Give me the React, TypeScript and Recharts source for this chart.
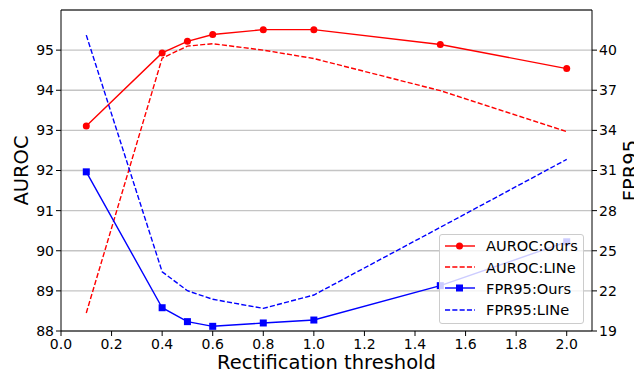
import { ComposedChart, Line, XAxis, YAxis, CartesianGrid, Legend, ReferenceLine, Label } from "recharts";

const thresholds = [0.1, 0.4, 0.5, 0.6, 0.8, 1.0, 1.5, 2.0];
const aurocOurs = [93.11, 94.93, 95.22, 95.39, 95.51, 95.51, 95.14, 94.54];
const aurocLine = [88.45, 94.8, 95.1, 95.16, 95.0, 94.79, 93.99, 92.97];
const fprOurs = [30.9, 20.74, 19.7, 19.35, 19.6, 19.82, 22.39, 25.67];
const fprLine = [41.12, 23.43, 22.01, 21.37, 20.69, 21.69, 26.75, 31.83];

const xTicks = [0, 0.2, 0.4, 0.6, 0.8, 1.0, 1.2, 1.4, 1.6, 1.8, 2.0];
const aurocTicks = [88, 89, 90, 91, 92, 93, 94, 95];
const fprTicks = [19, 22, 25, 28, 31, 34, 37, 40];

const data = thresholds.map((x, i) => ({
  x,
  aurocOurs: aurocOurs[i],
  aurocLine: aurocLine[i],
  fprOurs: fprOurs[i],
  fprLine: fprLine[i],
}));

const FONT = "'DejaVu Sans', sans-serif";
const RED = "#ff0000";
const BLUE = "#0000ff";
const DASH = "5.1 2.2";

const legendItems = [
  { name: "AUROC:Ours", color: RED, dashed: false, marker: "circle" },
  { name: "AUROC:LINe", color: RED, dashed: true, marker: null },
  { name: "FPR95:Ours", color: BLUE, dashed: false, marker: "square" },
  { name: "FPR95:LINe", color: BLUE, dashed: true, marker: null },
];

function SquareDot(props: any) {
  const { cx, cy, index } = props;
  if (cx == null || cy == null) return null;
  return <rect key={`sq-${index}`} x={cx - 3.5} y={cy - 3.5} width={7} height={7} fill={BLUE} />;
}

function LegendBox() {
  return (
    <div
      style={{
        border: "1px solid #cccccc",
        borderRadius: 3,
        background: "rgba(255,255,255,0.8)",
        padding: "0 0 0 4px",
        fontFamily: FONT,
        fontSize: 14.6,
        boxSizing: "border-box",
        width: 145,
        height: 90,
      }}
    >
      {legendItems.map((it) => (
        <div key={it.name} style={{ display: "flex", alignItems: "center", height: 21.4 }}>
          <svg width={42} height={12} style={{ flex: "none" }}>
            <line x1={1} x2={31} y1={6} y2={6} stroke={it.color} strokeWidth={1.4} strokeDasharray={it.dashed ? DASH : undefined} />
            {it.marker === "circle" && <circle cx={15.5} cy={6} r={3.5} fill={it.color} />}
            {it.marker === "square" && <rect x={12} y={2.5} width={7} height={7} fill={it.color} />}
          </svg>
          <span style={{ color: "#000", whiteSpace: "nowrap" }}>{it.name}</span>
        </div>
      ))}
    </div>
  );
}

export default function App() {
  const tickStyle = { fill: "#000", fontSize: 14, fontFamily: FONT };
  return (
    <div style={{ position: "absolute", left: 0, top: 0, width: 634, height: 375, background: "#fff" }}>
      <ComposedChart width={634} height={375} data={data} margin={{ top: 10, right: 0, bottom: 0, left: 0 }}>
        <CartesianGrid yAxisId="left" vertical={false} stroke="#c4c4c4" strokeWidth={1.3} />
        <XAxis
          dataKey="x"
          type="number"
          domain={[0, 2.1]}
          ticks={xTicks}
          tickFormatter={(v: number) => v.toFixed(1)}
          height={44}
          tickSize={5}
          tickMargin={3}
          tick={tickStyle}
          tickLine={{ stroke: "#000" }}
          axisLine={{ stroke: "#000" }}
          allowDataOverflow
        >
          <Label
            content={({ viewBox }: any) => (
              <text x={viewBox.x + viewBox.width / 2} y={369} textAnchor="middle" fontSize={19.5} fontFamily={FONT} fill="#000">
                Rectification threshold
              </text>
            )}
          />
        </XAxis>
        <YAxis
          yAxisId="left"
          domain={[88, 96]}
          ticks={aurocTicks}
          width={61}
          tickSize={5}
          tickMargin={2}
          tick={tickStyle}
          tickLine={{ stroke: "#000" }}
          axisLine={{ stroke: "#000" }}
          allowDataOverflow
        >
          <Label
            content={({ viewBox }: any) => {
              const cy = viewBox.y + viewBox.height / 2;
              return (
                <text x={28} y={cy} transform={`rotate(-90, 28, ${cy})`} textAnchor="middle" fontSize={19.5} fontFamily={FONT} fill="#000">
                  AUROC
                </text>
              );
            }}
          />
        </YAxis>
        <YAxis
          yAxisId="right"
          orientation="right"
          domain={[19, 43]}
          ticks={fprTicks}
          width={42}
          tickSize={5}
          tickMargin={2}
          tick={tickStyle}
          tickLine={{ stroke: "#000" }}
          axisLine={{ stroke: "#000" }}
          allowDataOverflow
        >
          <Label
            content={({ viewBox }: any) => {
              const cy = viewBox.y + viewBox.height / 2;
              const x = viewBox.x + 45;
              return (
                <text x={x} y={cy} transform={`rotate(-90, ${x}, ${cy})`} textAnchor="middle" fontSize={19.5} fontFamily={FONT} fill="#000">
                  FPR95
                </text>
              );
            }}
          />
        </YAxis>
        <ReferenceLine yAxisId="left" y={96} stroke="#000" strokeWidth={1} />
        <Line
          yAxisId="left"
          dataKey="aurocOurs"
          stroke={RED}
          strokeWidth={1.4}
          dot={{ r: 3.5, fill: RED, stroke: RED, strokeWidth: 0 }}
          activeDot={false}
          isAnimationActive={false}
        />
        <Line
          yAxisId="left"
          dataKey="aurocLine"
          stroke={RED}
          strokeWidth={1.4}
          strokeDasharray={DASH}
          dot={false}
          activeDot={false}
          isAnimationActive={false}
        />
        <Line
          yAxisId="right"
          dataKey="fprOurs"
          stroke={BLUE}
          strokeWidth={1.4}
          dot={<SquareDot />}
          activeDot={false}
          isAnimationActive={false}
        />
        <Line
          yAxisId="right"
          dataKey="fprLine"
          stroke={BLUE}
          strokeWidth={1.4}
          strokeDasharray={DASH}
          dot={false}
          activeDot={false}
          isAnimationActive={false}
        />
        <Legend
          layout="horizontal"
          verticalAlign="middle"
          align="center"
          wrapperStyle={{ left: 439, top: 234, width: 145, height: 90 }}
          content={() => <LegendBox />}
        />
      </ComposedChart>
    </div>
  );
}
